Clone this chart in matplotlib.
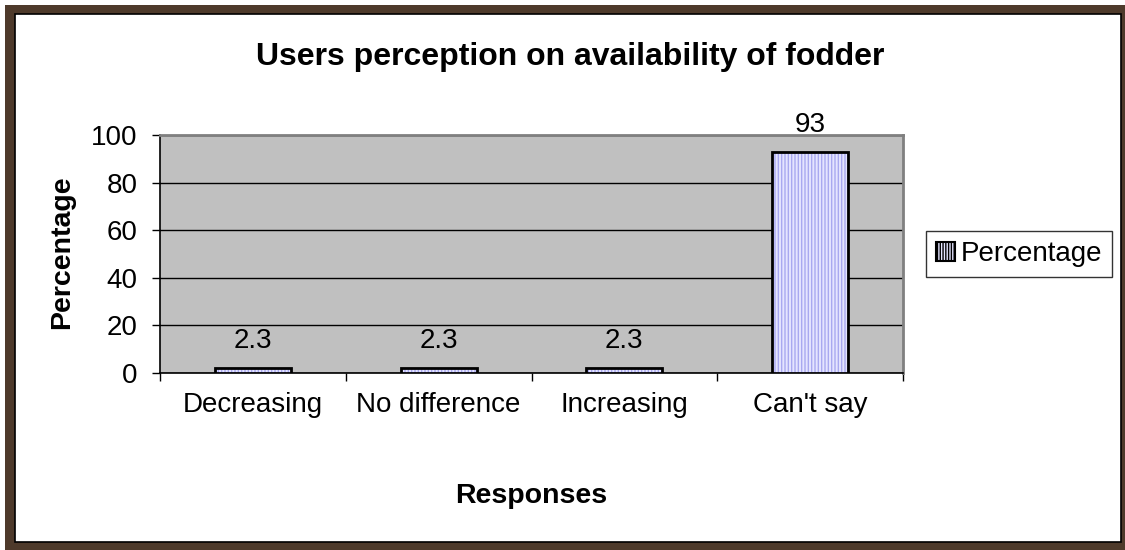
import matplotlib
matplotlib.use("Agg")
import matplotlib.pyplot as plt
from matplotlib.patches import Rectangle
from matplotlib.ticker import FixedLocator

plt.rcParams['font.family'] = ['Liberation Sans', 'DejaVu Sans']

categories = ["Decreasing", "No difference", "Increasing", "Can't say"]
percentages = [2.3, 2.3, 2.3, 93]
y_ticks = [0, 20, 40, 60, 80, 100]

W, H = 1125, 550
fig = plt.figure(figsize=(W / 100, H / 100), dpi=100)
fig.patch.set_facecolor('white')

# Wooden-looking frame around the white chart area
def px_rect(x0, y0, x1, y1, **kw):
    fig.patches.append(Rectangle((x0 / W, 1 - y1 / H), (x1 - x0) / W, (y1 - y0) / H,
                                 transform=fig.transFigure, figure=fig, **kw))

brown = '#4e3a2b'
px_rect(5, 5, 1125, 15, facecolor=brown, edgecolor='none', zorder=-10)
px_rect(5, 5, 15, 550, facecolor=brown, edgecolor='none', zorder=-10)
px_rect(1121, 5, 1125, 550, facecolor=brown, edgecolor='none', zorder=-10)
px_rect(5, 542, 1125, 550, facecolor=brown, edgecolor='none', zorder=-10)
px_rect(15, 14, 1121, 542, facecolor='white', edgecolor='black', linewidth=1.2, zorder=-9)

ax = fig.add_axes([160 / W, 1 - 373 / H, (903 - 160) / W, (373 - 135) / H])
ax.set_facecolor('#c0c0c0')
ax.set_zorder(1)

x = list(range(len(categories)))
# hatched fill, then black outline
ax.bar(x, percentages, width=0.41, color='#e4e4ff', edgecolor='#a8a8f0',
       hatch='|||||', linewidth=0, zorder=3)
ax.bar(x, percentages, width=0.41, fill=False, edgecolor='black',
       linewidth=2, zorder=4)

for xi, v in zip(x, percentages):
    ax.annotate(f"{v:g}", (xi, v), xytext=(0, 10), textcoords='offset points',
                ha='center', va='bottom', fontsize=20)

ax.set_xlim(-0.5, len(categories) - 0.5)
ax.set_ylim(0, 100)
ax.set_yticks(y_ticks)
ax.tick_params(axis='y', labelsize=20, length=6, width=1, pad=10, direction='out')
ax.yaxis.grid(True, color='black', linewidth=1, zorder=1)
ax.set_axisbelow(True)

ax.set_xticks(x)
ax.set_xticklabels(categories)
ax.xaxis.set_minor_locator(FixedLocator([i - 0.5 for i in range(len(categories) + 1)]))
ax.tick_params(axis='x', which='major', length=0, labelsize=20, pad=14)
ax.tick_params(axis='x', which='minor', length=6, width=1, direction='out')

for side in ('top', 'right'):
    ax.spines[side].set_color('#808080')
    ax.spines[side].set_linewidth(2)
for side in ('left', 'bottom'):
    ax.spines[side].set_color('black')
    ax.spines[side].set_linewidth(1.2)

fig.text(570 / W, 1 - 57 / H, "Users perception on availability of fodder",
         ha='center', va='center', fontsize=23, fontweight='bold')
fig.text(62 / W, 1 - 252 / H, "Percentage", rotation=90,
         ha='center', va='center', fontsize=20.5, fontweight='bold')
fig.text(531 / W, 1 - 496 / H, "Responses",
         ha='center', va='center', fontsize=20.5, fontweight='bold')

handle = Rectangle((0, 0), 1, 1, facecolor='#e4e4ff', edgecolor='black',
                   hatch='||||||', linewidth=1.5)
leg = fig.legend([handle], ["Percentage"], loc='center',
                 bbox_to_anchor=(1019 / W, 1 - 254 / H), fontsize=20,
                 frameon=True, fancybox=False, handlelength=0.7, handleheight=0.7,
                 handletextpad=0.2, borderpad=0.35, borderaxespad=0)
leg.get_frame().set_edgecolor('black')
leg.get_frame().set_linewidth(1)

fig.savefig("out.png", dpi=100)
